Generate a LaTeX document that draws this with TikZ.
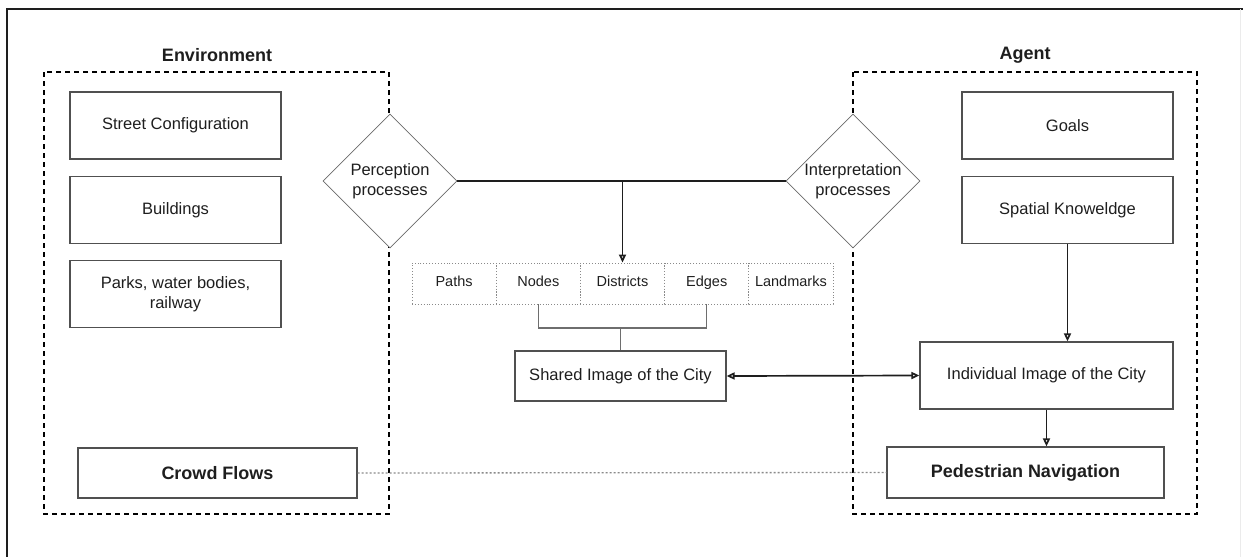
\documentclass[tikz,border=0pt]{standalone}
\usepackage{fontspec}
\setmainfont{Liberation Sans}
\usetikzlibrary{shapes.geometric,arrows.meta}

\definecolor{ink}{HTML}{1E1E1E}
\definecolor{rim}{HTML}{505050}
\definecolor{faint}{HTML}{8A8A8A}

\tikzstyle{block}=[draw=rim,line width=1.2pt,rectangle,inner sep=0pt,align=center,text=ink,font=\fontsize{16.5}{20}\selectfont]
\tikzstyle{boldblock}=[block,font=\fontsize{18}{22}\selectfont\bfseries]
\tikzstyle{process}=[draw=rim!85,fill=white,line width=0.8pt,diamond,aspect=1,minimum size=134pt,inner sep=0pt,align=center,text=ink,font=\fontsize{16.5}{20}\selectfont]
\tikzstyle{element}=[draw=faint,line width=0.9pt,dotted,minimum width=84.2pt,minimum height=41pt,inner sep=0pt,text height=0.75em,text depth=0.22em,text=ink,font=\fontsize{14.5}{17}\selectfont]
\tikzstyle{group}=[draw,line width=1.6pt,dash pattern=on 5pt off 4pt]
\tikzstyle{title}=[text=ink,font=\fontsize{18}{22}\selectfont\bfseries]
\tikzstyle{link}=[draw=ink,line width=1.7pt]
\tikzstyle{arrow}=[link,-{Triangle[open,length=8pt,width=7pt]}]
\tikzstyle{merger}=[draw=faint!80!black,line width=1.5pt]
\tikzstyle{flow}=[draw=faint,line width=1.3pt,dash pattern=on 2pt off 2pt]

\begin{document}
\begin{tikzpicture}[x=1pt, y=-1pt]
    \useasboundingbox (0,0) rectangle (1243,557);
    % Page frame
    \draw[line width=1.2pt,ink] (7,557) -- (7,9) -- (1243,9);
    \draw[line width=0.6pt,black!8] (1240,9) -- (1240,557);
    % First we draw the two groups
    \draw[group] (44,72) rectangle (389,514);
    \draw[group] (853,72) rectangle (1197,514);
    \node[title] (envtitle) at (217,55) {Environment};
    \node[title] (agenttitle) at (1025,55) {Agent};
    % Boxes inside the groups
    \foreach \pos/\name/\text in {{(175.5,125.5)/street/Street Configuration}, {(175.5,210)/buildings/Buildings}, {(175.5,294)/parks/{Parks, water bodies,\\railway}}, {(1067.5,125.5)/goals/Goals}, {(1067.5,210)/spatial/Spatial Knoweldge}}
        \node[block,minimum width=211pt,minimum height=67pt] (\name) at \pos {\text};
    \node[block,minimum width=253pt,minimum height=67pt] (individual) at (1046.5,375.5) {Individual Image of the City};
    \node[boldblock,minimum width=279pt,minimum height=50pt] (crowd) at (217.5,473) {Crowd Flows};
    \node[boldblock,minimum width=277pt,minimum height=51pt] (pedestrian) at (1025.5,472.5) {Pedestrian Navigation};
    % Processes
    \node[process] (perception) at (390,181) {Perception\\processes};
    \node[process] (interpretation) at (853,181) {Interpretation\\processes};
    % Elements of the image
    \foreach \i/\name/\text in {0/paths/Paths, 1/nodes/Nodes, 2/districts/Districts, 3/edges/Edges, 4/landmarks/Landmarks}
        \node[element] (\name) at ({454.1+84.2*\i},283.5) {\text};
    \node[block,minimum width=211pt,minimum height=50pt] (shared) at (620.5,376) {Shared Image of the City};
    % Connect everything
    \path[link] (perception.east) -- (interpretation.west);
    \coordinate (fork) at (districts.north |- perception.east);
    \path[arrow] (fork) -- (districts.north);
    \coordinate (merge) at (shared.north |- 0,328);
    \path[merger] (nodes.south) |- (merge) -| (edges.south);
    \path[merger] (merge) -- (shared.north);
    \path[link,{Triangle[open,length=8pt,width=7pt]}-{Triangle[open,length=8pt,width=7pt]}] (shared.east) -- (individual.west);
    \path[arrow] (spatial.south) -- (spatial.south |- individual.north);
    \path[arrow] (individual.south) -- (individual.south |- pedestrian.north);
    \path[flow] (crowd.east) -- (pedestrian.west);
\end{tikzpicture}
\end{document}
